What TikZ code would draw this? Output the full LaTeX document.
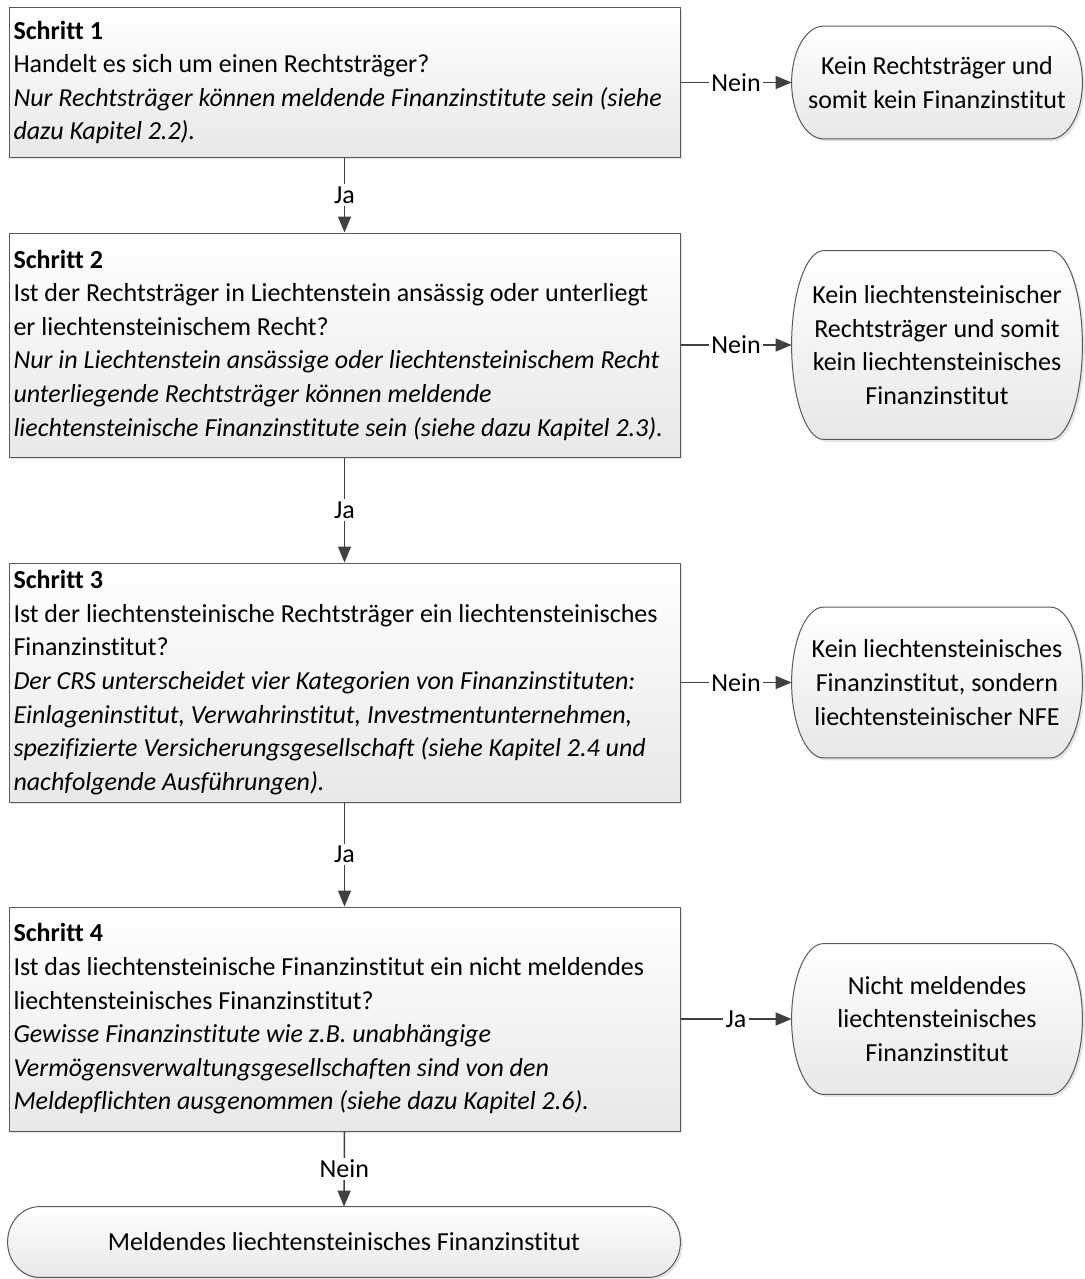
\documentclass[tikz,border=0pt]{standalone}
\usepackage{fontspec}
\setmainfont{Carlito}[Ligatures={TeX,NoCommon}]
\usetikzlibrary{arrows.meta, calc, shadows, backgrounds}

\definecolor{linegray}{RGB}{89,89,89}
\definecolor{arrowgray}{RGB}{64,64,64}
\definecolor{fillgray}{RGB}{232,232,232}

\tikzset{
    every node/.style={font=\fontsize{13pt}{16.8pt}\selectfont},
    boxfill/.style={draw=linegray, line width=0.5pt, top color=white, bottom color=fillgray,
        drop shadow={shadow xshift=1.2pt, shadow yshift=-1.2pt, fill=black, opacity=0.1}},
    stepbox/.style={boxfill, minimum width=335.5pt, text width=331pt, align=flush left, inner xsep=2.25pt},
    endbox/.style={align=flush center, inner sep=0pt, minimum width=145pt},
    arr/.style={draw=arrowgray, line width=0.75pt, -{Triangle[length=8pt,width=6.5pt]}},
    lbl/.style={fill=white, inner sep=1.2pt}
}

% Abgerundete Endform um einen Knoten
\newcommand{\termshape}[1]{%
    \path[boxfill] let \p1=(#1.north west), \p2=(#1.south east), \n1={(\y1-\y2)/2} in
        (\x1+16pt,\y1) -- (\x2-16pt,\y1)
        arc[start angle=90, end angle=-90, x radius=16pt, y radius=\n1]
        -- (\x1+16pt,\y2)
        arc[start angle=270, end angle=90, x radius=16pt, y radius=\n1] -- cycle;}

\begin{document}
\begin{tikzpicture}[x=0.5pt, y=-0.5pt]
    \useasboundingbox (0,0) rectangle (1084,1279);

    % Schritte
    \node[stepbox, minimum height=74.5pt] (S1) at (344.5,82.5) {\textbf{Schritt 1}\\
        Handelt es sich um einen Rechtsträger?\\
        \textit{Nur Rechtsträger können meldende Finanzinstitute sein (siehe}\\
        \textit{dazu Kapitel 2.2).}};
    \node[stepbox, minimum height=112pt] (S2) at (344.5,345) {\textbf{Schritt 2}\\
        Ist der Rechtsträger in Liechtenstein ansässig oder unterliegt\\
        er liechtensteinischem Recht?\\
        \textit{Nur in Liechtenstein ansässige oder liechtensteinischem Recht}\\
        \textit{unterliegende Rechtsträger können meldende}\\
        \textit{liechtensteinische Finanzinstitute sein (siehe dazu Kapitel 2.3).}};
    \node[stepbox, minimum height=119.5pt] (S3) at (344.5,682.5) {\textbf{Schritt 3}\\
        Ist der liechtensteinische Rechtsträger ein liechtensteinisches\\
        Finanzinstitut?\\
        \textit{Der CRS unterscheidet vier Kategorien von Finanzinstituten:}\\
        \textit{Einlageninstitut, Verwahrinstitut, Investmentunternehmen,}\\
        \textit{spezifizierte Versicherungsgesellschaft (siehe Kapitel 2.4 und}\\
        \textit{nachfolgende Ausführungen).}};
    \node[stepbox, minimum height=112pt] (S4) at (344.5,1019) {\textbf{Schritt 4}\\
        Ist das liechtensteinische Finanzinstitut ein nicht meldendes\\
        liechtensteinisches Finanzinstitut?\\
        \textit{Gewisse Finanzinstitute wie z.B. unabhängige}\\
        \textit{Vermögensverwaltungsgesellschaften sind von den}\\
        \textit{Meldepflichten ausgenommen (siehe dazu Kapitel 2.6).}};

    % Ergebnisse
    \node[endbox, minimum height=56pt] (N1) at (937,82.5)
        {Kein Rechtsträger und\\ somit kein Finanzinstitut};
    \node[endbox, minimum height=94pt] (N2) at (937,345)
        {Kein liechtensteinischer\\ Rechtsträger und somit\\ kein liechtensteinisches\\ Finanzinstitut};
    \node[endbox, minimum height=75pt] (N3) at (937,682.5)
        {Kein liechtensteinisches\\ Finanzinstitut, sondern\\ liechtensteinischer NFE};
    \node[endbox, minimum height=75pt] (N4) at (937,1019)
        {Nicht meldendes\\ liechtensteinisches\\ Finanzinstitut};
    \node[endbox, minimum width=336pt, minimum height=35pt] (M) at (344,1242)
        {Meldendes liechtensteinisches Finanzinstitut};

    \begin{scope}[on background layer]
        \foreach \nd in {N1,N2,N3,N4,M}
            \termshape{\nd};
    \end{scope}

    % Pfeile
    \draw[arr] (S1.east) -- node[lbl] {Nein} (N1.west);
    \draw[arr] (S2.east) -- node[lbl] {Nein} (N2.west);
    \draw[arr] (S3.east) -- node[lbl] {Nein} (N3.west);
    \draw[arr] (S4.east) -- node[lbl] {Ja} (N4.west);
    \draw[arr] (S1.south) -- node[lbl] {Ja} (S2.north);
    \draw[arr] (S2.south) -- node[lbl] {Ja} (S3.north);
    \draw[arr] (S3.south) -- node[lbl] {Ja} (S4.north);
    \draw[arr] (S4.south) -- node[lbl] {Nein} (M.north);
\end{tikzpicture}
\end{document}
